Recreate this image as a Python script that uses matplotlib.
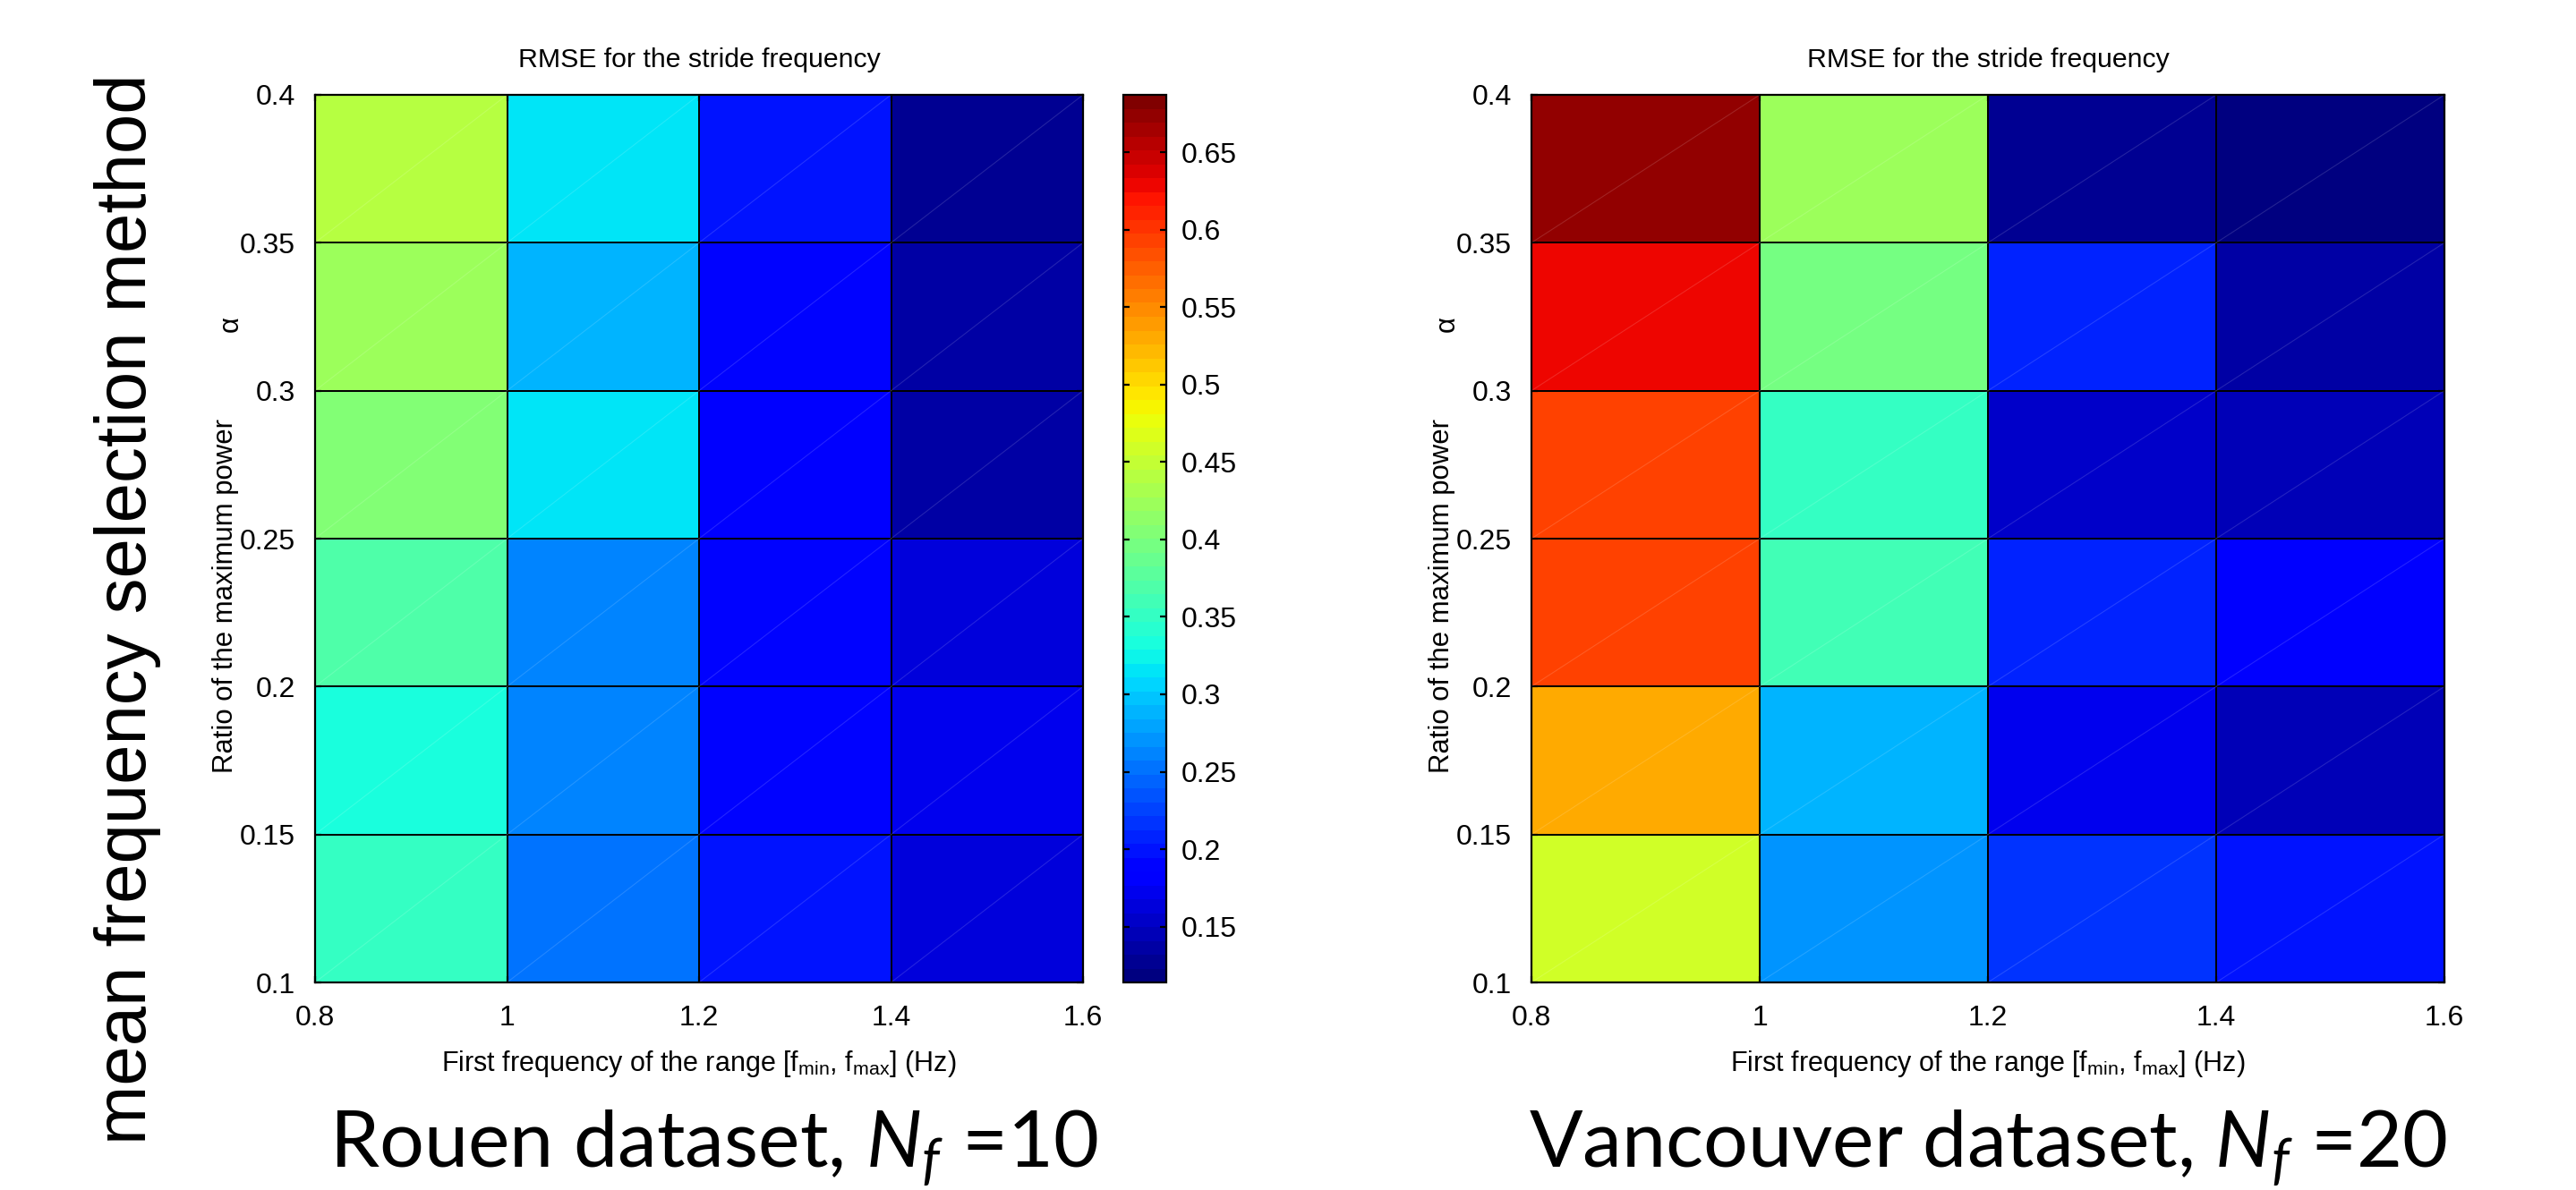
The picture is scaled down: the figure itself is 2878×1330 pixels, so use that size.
import numpy as np
import matplotlib
matplotlib.use("Agg")
import matplotlib.pyplot as plt
from matplotlib.ticker import FuncFormatter

plt.rcParams['font.family'] = ['Liberation Sans', 'DejaVu Sans']
plt.rcParams['mathtext.fontset'] = 'custom'
plt.rcParams['mathtext.it'] = 'Lato:italic'
plt.rcParams['mathtext.rm'] = 'Lato'

# grid edges
f_edges = [0.8, 1.0, 1.2, 1.4, 1.6]
alpha_edges = [0.1, 0.15, 0.2, 0.25, 0.3, 0.35, 0.4]

# RMSE, rows from alpha=0.1 (bottom) to 0.4 (top), columns f=0.8..1.6
rmse_rouen = [
    [0.349, 0.257, 0.203, 0.167],
    [0.336, 0.266, 0.186, 0.170],
    [0.366, 0.266, 0.191, 0.162],
    [0.401, 0.312, 0.183, 0.140],
    [0.424, 0.293, 0.194, 0.138],
    [0.437, 0.312, 0.199, 0.128],
]
rmse_vancouver = [
    [0.460, 0.273, 0.221, 0.203],
    [0.529, 0.293, 0.168, 0.149],
    [0.597, 0.364, 0.208, 0.180],
    [0.597, 0.350, 0.158, 0.142],
    [0.628, 0.398, 0.204, 0.138],
    [0.674, 0.419, 0.128, 0.114],
]
cbar_ticks = [0.15, 0.2, 0.25, 0.3, 0.35, 0.4, 0.45, 0.5, 0.55, 0.6, 0.65]
vmin, vmax = 0.114, 0.687

titles = ["RMSE for the stride frequency", "RMSE for the stride frequency"]
datasets = [r"Rouen dataset, $N_f$ =10", r"Vancouver dataset, $N_f$ =20"]

W, H = 2878, 1330
fig = plt.figure(figsize=(W / 200, H / 200), dpi=200)
cmap = plt.get_cmap('jet', 64)

def px(x0, y0, x1, y1):
    return [x0 / W, 1 - y1 / H, (x1 - x0) / W, (y1 - y0) / H]

ax_l = fig.add_axes(px(352, 106, 1210, 1098))
cax = fig.add_axes(px(1255, 106, 1303, 1098))
ax_r = fig.add_axes(px(1711, 106, 2731, 1098))

fmt = FuncFormatter(lambda v, p: ('%g' % round(v, 3)))
for ax, data, title, name, wpx, shift in zip([ax_l, ax_r], [rmse_rouen, rmse_vancouver],
                                             titles, datasets, [858, 1020], [16, 0]):
    mesh = ax.pcolormesh(f_edges, alpha_edges, np.array(data), cmap=cmap, vmin=vmin, vmax=vmax,
                         edgecolors='k', linewidth=0.6)
    # faint diagonal rendering lines
    for i in range(len(f_edges) - 1):
        for j in range(len(alpha_edges) - 1):
            ax.plot([f_edges[i], f_edges[i + 1]], [alpha_edges[j], alpha_edges[j + 1]],
                    color='white', lw=0.4, alpha=0.14)
    ax.set_xlim(f_edges[0], f_edges[-1])
    ax.set_ylim(alpha_edges[0], alpha_edges[-1])
    ax.set_xticks(f_edges)
    ax.set_yticks(alpha_edges)
    ax.xaxis.set_major_formatter(fmt)
    ax.yaxis.set_major_formatter(fmt)
    ax.tick_params(direction='in', top=True, right=True, length=2.5, width=0.8,
                   labelsize=11.5, pad=8)
    ax.tick_params(axis='x', pad=9)
    for s in ax.spines.values():
        s.set_linewidth(0.8)
    ax.set_title(title, fontsize=10.9, pad=11)
    ax.set_xlabel(r"First frequency of the range [f$_\mathregular{min}$, f$_\mathregular{max}$] (Hz)",
                  fontsize=11, labelpad=7)
    ax.text(-100 / wpx, 0.435, "Ratio of the maximum power", transform=ax.transAxes,
            rotation=90, ha='center', va='center', fontsize=11.2)
    ax.text(-94 / wpx, 0.742, "\u03b1", transform=ax.transAxes,
            rotation=90, ha='center', va='center', fontsize=11.2)
    ax.text(0.5 + shift / wpx, -0.187, name, transform=ax.transAxes, ha='center', va='center',
            fontsize=31.7, family='Lato')

cb = fig.colorbar(mesh, cax=cax, ticks=cbar_ticks)
cb.ax.yaxis.set_major_formatter(fmt)
cb.ax.tick_params(direction='in', left=True, right=True, length=2.5, width=0.8,
                  labelsize=11.5, pad=6)
cb.outline.set_linewidth(0.8)

fig.text(143 / W, 1 - 681 / H, "mean frequency selection method", rotation=90,
         ha='center', va='center', fontsize=28.7, family='Liberation Sans')

fig.savefig("out.png", dpi=200, facecolor='white')
